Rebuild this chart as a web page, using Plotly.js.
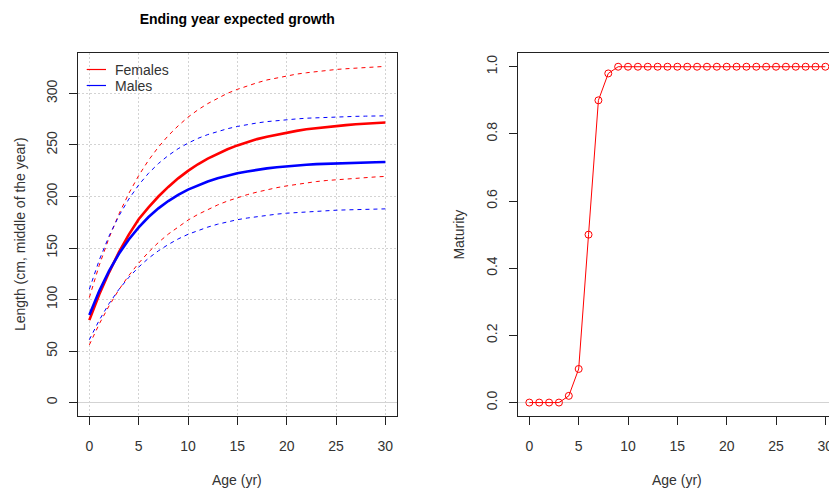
<!DOCTYPE html>
<html>
<head>
<meta charset="utf-8">
<script src="https://cdn.plot.ly/plotly-3.0.1.min.js"></script>
<style>
  html, body { margin: 0; padding: 0; background: #fff; overflow: hidden; }
  #chart { width: 840px; height: 491px; }
</style>
</head>
<body>
<div id="chart"></div>
<script>
// Ages (years)
const ages = [0,1,2,3,4,5,6,7,8,9,10,11,12,13,14,15,16,17,18,19,20,21,22,23,24,25,26,27,28,29,30];

// Expected length at age (cm, middle of the year) with lower/upper bounds
const femaleMean  = [80,104.8,126.4,146,163,178,189.5,200,209.3,217.6,224.9,231.3,236.8,241.7,245.9,249.6,252.8,255.7,258.1,260.2,262.1,263.7,265.2,266.4,267.5,268.5,269.3,270.1,270.7,271.3,271.8];
const femaleUpper = [102,133.1,159.9,183.0,203.0,220.3,235.2,248.0,259.1,268.6,277.0,284.1,290.2,295.6,300.2,304.0,307.4,310.4,313.1,315.2,317.2,318.8,320.1,321.3,322.4,323.3,324.0,324.7,325.4,325.8,326.3];
const femaleLower = [56,76.2,93.9,109.6,123.3,135.3,146.0,155.4,163.5,170.7,177.1,182.6,187.4,191.8,195.6,199.0,201.8,204.3,206.6,208.6,210.3,211.8,213.1,214.5,215.5,216.3,217.2,217.8,218.5,219.0,219.5];

const maleMean  = [85,108.2,127.8,144.4,158.3,170.1,180.1,188.5,195.6,201.6,206.7,211.0,214.6,217.7,220.3,222.5,224.3,226.0,227.3,228.4,229.4,230.2,230.8,231.4,231.8,232.3,232.6,232.9,233.2,233.3,233.5];
const maleUpper = [110,138.2,161.7,181.3,197.5,211.2,222.6,232.0,239.8,246.4,251.8,256.4,260.1,263.3,265.8,268.0,269.9,271.4,272.7,273.8,274.6,275.3,276.0,276.5,277.0,277.3,277.5,277.8,278.0,278.2,278.3];
const maleLower = [61,79.9,96.1,109.9,121.5,131.5,140.1,147.3,153.4,158.8,163.3,167.0,170.3,173.1,175.4,177.5,179.1,180.6,181.8,182.9,183.8,184.5,185.3,185.8,186.3,186.7,187.0,187.3,187.6,187.7,188.0];

// Proportion mature at age
const maturity = [0,0,0,0,0.02,0.1,0.5,0.9,0.98,1,1,1,1,1,1,1,1,1,1,1,1,1,1,1,1,1,1,1,1,1,1];

const legendLabels = ["Females", "Males"];

const RED = "#ff0000", BLUE = "#0000ff";
const FONT = "Liberation Sans, Arial, sans-serif";
const TXT = "#333333";

// Figure is a bit wider than the window so the right panel runs off the edge
const W = 840, H = 491;
const px = v => v / W;
const py = v => 1 - v / H;

function growthLine(y, color, dashed) {
  return {
    x: ages, y: y, type: "scatter", mode: "lines",
    xaxis: "x", yaxis: "y", hoverinfo: "skip", showlegend: false,
    line: dashed ? { color: color, width: 1, dash: "4px,4px" }
                 : { color: color, width: 2.6 }
  };
}

const traces = [
  growthLine(femaleUpper, RED, true),
  growthLine(femaleLower, RED, true),
  growthLine(femaleMean, RED, false),
  growthLine(maleUpper, BLUE, true),
  growthLine(maleLower, BLUE, true),
  growthLine(maleMean, BLUE, false),
  {
    x: ages, y: maturity, type: "scatter", mode: "lines+markers",
    xaxis: "x2", yaxis: "y2", showlegend: false, hoverinfo: "skip",
    line: { color: RED, width: 1 },
    marker: { symbol: "circle-open", size: 7, color: RED, line: { color: RED, width: 1 } }
  }
];

const tickFont = { family: FONT, size: 14, color: TXT };
const yDomain = [py(416), py(53.3)];

function baseAxis(extra) {
  return Object.assign({
    showline: true, linecolor: "#222", linewidth: 1, mirror: true,
    ticks: "outside", ticklen: 8, tickwidth: 1, tickcolor: "#222",
    tickfont: tickFont, fixedrange: true, automargin: false
  }, extra);
}

const layout = {
  width: W, height: H,
  margin: { l: 0, r: 0, t: 0, b: 0 },
  paper_bgcolor: "#fff", plot_bgcolor: "#fff",
  showlegend: false,
  title: {
    text: "<b>Ending year expected growth</b>",
    font: { family: FONT, size: 14, color: "#000" },
    x: px(237.3), xanchor: "center", xref: "paper",
    y: py(19), yanchor: "middle", yref: "paper"
  },
  xaxis: baseAxis({
    domain: [px(77.5), px(397.2)], range: [-1.2, 31.2],
    tickvals: [0,5,10,15,20,25,30], ticklabelstandoff: 9,
    showgrid: true, gridcolor: "#d3d3d3", griddash: "2px,2px", gridwidth: 1,
    zeroline: false, anchor: "y"
  }),
  yaxis: baseAxis({
    domain: yDomain, range: [-13.04, 339.0],
    tickvals: [0,50,100,150,200,250,300], tickangle: -90, ticklabelstandoff: 6,
    showgrid: true, gridcolor: "#d3d3d3", griddash: "2px,2px", gridwidth: 1,
    zeroline: true, zerolinecolor: "#d3d3d3", zerolinewidth: 1, anchor: "x"
  }),
  xaxis2: baseAxis({
    domain: [px(517.5), px(837.2)], range: [-1.2, 31.2],
    tickvals: [0,5,10,15,20,25,30], ticklabelstandoff: 9,
    showgrid: false, zeroline: false, anchor: "y2"
  }),
  yaxis2: baseAxis({
    domain: yDomain, range: [-0.04, 1.04],
    tickvals: [0,0.2,0.4,0.6,0.8,1.0], tickformat: ".1f", tickangle: -90, ticklabelstandoff: 6,
    showgrid: false,
    zeroline: true, zerolinecolor: "#d3d3d3", zerolinewidth: 1, anchor: "x2"
  }),
  shapes: [
    // legend keys
    { type: "line", layer: "above", xref: "paper", yref: "paper", x0: px(86.7), x1: px(106), y0: py(69.5), y1: py(69.5), opacity: 1, line: { color: RED, width: 1.2 } },
    { type: "line", layer: "above", xref: "paper", yref: "paper", x0: px(86.7), x1: px(106), y0: py(85.5), y1: py(85.5), opacity: 1, line: { color: BLUE, width: 1.2 } }
  ],
  annotations: [
    { text: legendLabels[0], xref: "paper", yref: "paper", x: px(113), y: py(70), xanchor: "left", yanchor: "middle", showarrow: false, font: { family: FONT, size: 14, color: TXT } },
    { text: legendLabels[1], xref: "paper", yref: "paper", x: px(113), y: py(86), xanchor: "left", yanchor: "middle", showarrow: false, font: { family: FONT, size: 14, color: TXT } },
    { text: "Age (yr)", xref: "paper", yref: "paper", x: px(237.3), y: py(480), xanchor: "center", yanchor: "middle", showarrow: false, font: { family: FONT, size: 14, color: TXT } },
    { text: "Age (yr)", xref: "paper", yref: "paper", x: px(677.3), y: py(480), xanchor: "center", yanchor: "middle", showarrow: false, font: { family: FONT, size: 14, color: TXT } },
    { text: "Length (cm, middle of the year)", xref: "paper", yref: "paper", x: px(19.5), y: py(234.6), xanchor: "center", yanchor: "middle", textangle: -90, showarrow: false, font: { family: FONT, size: 14, color: TXT } },
    { text: "Maturity", xref: "paper", yref: "paper", x: px(459), y: py(234.6), xanchor: "center", yanchor: "middle", textangle: -90, showarrow: false, font: { family: FONT, size: 14, color: TXT } }
  ]
};

Plotly.newPlot("chart", traces, layout, { staticPlot: true, displayModeBar: false });
</script>
</body>
</html>
